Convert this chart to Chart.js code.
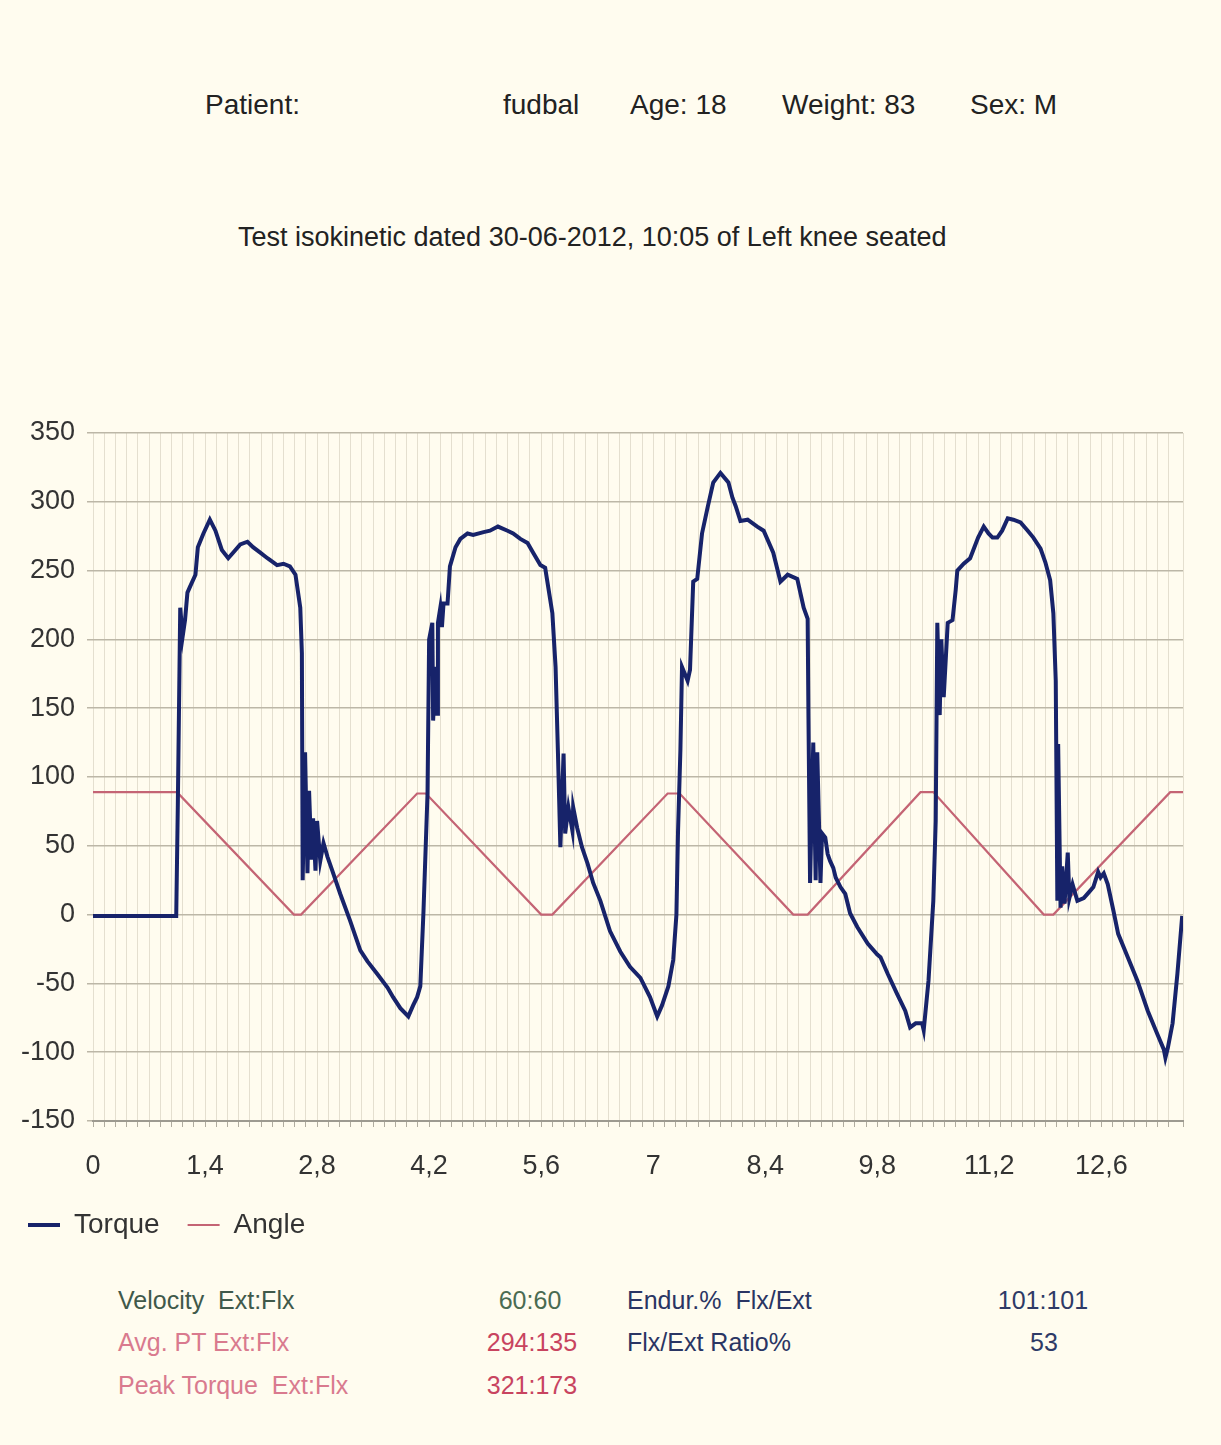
<!DOCTYPE html>
<html>
<head>
<meta charset="utf-8">
<script src="https://cdn.jsdelivr.net/npm/chart.js@4.4.0/dist/chart.umd.min.js"></script>
<style>
  body { margin: 0; width: 1221px; height: 1445px; background: #fffcef; position: relative; overflow: hidden;
         font-family: "Liberation Sans", Arial, sans-serif; color: #222; }
  .t { position: absolute; white-space: nowrap; line-height: 1; }
  .c { text-align: center; width: 140px; }
  #wrap { position: absolute; left: 0; top: 400px; width: 1221px; height: 849px; }
</style>
</head>
<body>

<div class="t" style="left:205px;top:91px;font-size:28px">Patient:</div>
<div class="t" style="left:503px;top:91px;font-size:28px">fudbal</div>
<div class="t" style="left:630px;top:91px;font-size:28px">Age: 18</div>
<div class="t" style="left:782px;top:91px;font-size:28px">Weight: 83</div>
<div class="t" style="left:970px;top:91px;font-size:28px">Sex: M</div>

<div class="t" style="left:238px;top:224px;font-size:27px">Test isokinetic dated 30-06-2012, 10:05 of Left knee seated</div>

<div id="wrap"><canvas id="chart"></canvas></div>

<div class="t" style="left:118px;top:1288px;font-size:25px;color:#40594a">Velocity&nbsp; Ext:Flx</div>
<div class="t c" style="left:460px;top:1288px;font-size:25px;color:#4a6b52">60:60</div>
<div class="t" style="left:627px;top:1288px;font-size:25px;color:#2a3563">Endur.%&nbsp; Flx/Ext</div>
<div class="t c" style="left:973px;top:1288px;font-size:25px;color:#2e3a66">101:101</div>

<div class="t" style="left:118px;top:1330px;font-size:25px;color:#d97a8e">Avg. PT Ext:Flx</div>
<div class="t c" style="left:462px;top:1330px;font-size:25px;color:#c8445f">294:135</div>
<div class="t" style="left:627px;top:1330px;font-size:25px;color:#2a3563">Flx/Ext Ratio%</div>
<div class="t c" style="left:974px;top:1330px;font-size:25px;color:#2e3a66">53</div>

<div class="t" style="left:118px;top:1373px;font-size:25px;color:#d97a8e">Peak Torque&nbsp; Ext:Flx</div>
<div class="t c" style="left:462px;top:1373px;font-size:25px;color:#c8445f">321:173</div>

<script>
// time axis (s) and y axis
const xMax = 13.62;
const xMinorStep = 0.14;   // grid step, a label every 10 steps
const xLabelEvery = 10;
const yMin = -150, yMax = 350, yStep = 50;

// Torque curve (Nm)
const torqueTime = [
  0, 1.04, 1.06, 1.09, 1.12, 1.15, 1.18, 1.21, 1.28, 1.31,
  1.38, 1.46, 1.53, 1.61, 1.69, 1.75, 1.84, 1.93, 2.00, 2.09,
  2.18, 2.30, 2.38, 2.46, 2.53, 2.59, 2.61, 2.62, 2.65, 2.68,
  2.70, 2.73, 2.75, 2.78, 2.80, 2.84, 2.88, 2.93, 2.99, 3.09,
  3.21, 3.34, 3.43, 3.55, 3.68, 3.75, 3.84, 3.94, 4.00, 4.05,
  4.09, 4.13, 4.18, 4.20,
  4.24, 4.25, 4.28, 4.30, 4.31, 4.34, 4.36, 4.38, 4.43, 4.46,
  4.53, 4.59, 4.68, 4.75, 4.88, 4.96, 5.06, 5.18, 5.25, 5.34,
  5.43, 5.50, 5.59, 5.65, 5.74, 5.78, 5.81, 5.84, 5.88, 5.90,
  5.94, 5.99, 6.00, 6.05, 6.11, 6.18, 6.25, 6.34, 6.46, 6.59,
  6.71, 6.84, 6.96, 7.05, 7.11, 7.19, 7.25, 7.29, 7.31, 7.34,
  7.36,
  7.43, 7.46, 7.50, 7.55, 7.61, 7.68, 7.75, 7.84, 7.94, 7.99,
  8.03, 8.09, 8.18, 8.30, 8.38, 8.50, 8.59, 8.68, 8.80, 8.88,
  8.93, 8.94, 8.96, 9.00, 9.03, 9.05, 9.09, 9.11, 9.15, 9.18,
  9.21, 9.25, 9.28, 9.34, 9.40, 9.46, 9.55, 9.68, 9.80, 9.84,
  9.93, 10.05, 10.15, 10.21, 10.28, 10.36, 10.38, 10.44, 10.50, 10.53,
  10.55,
  10.58, 10.60, 10.63, 10.68, 10.74, 10.78, 10.80, 10.88, 10.96, 11.00,
  11.06, 11.13, 11.19, 11.24, 11.30, 11.36, 11.43, 11.50, 11.59, 11.68,
  11.75, 11.84, 11.90, 11.96, 12.00, 12.03, 12.05, 12.06, 12.09, 12.11,
  12.14, 12.18, 12.20, 12.24, 12.30, 12.38, 12.44, 12.50, 12.56, 12.59,
  12.63, 12.68, 12.75, 12.81, 12.93, 13.05, 13.18, 13.30, 13.38, 13.40,
  13.43, 13.49, 13.55, 13.61
];
const torqueValue = [
  -1, -1, 80, 223, 202, 214, 234, 238, 247, 267,
  277, 287, 279, 265, 259, 263, 269, 271, 267, 263,
  259, 254, 255, 253, 247, 223, 190, 25, 118, 30,
  90, 40, 70, 32, 68, 39, 52, 42, 32, 15,
  -4, -26, -34, -43, -53, -60, -68, -74, -66, -60,
  -52, 3, 88, 200,
  212, 141, 180, 146, 212, 223, 209, 226, 226, 253,
  267, 273, 277, 276, 278, 279, 282, 279, 277, 273,
  270, 263, 254, 252, 219, 180, 117, 49, 117, 59,
  78, 61, 78, 63, 49, 37, 23, 10, -12, -27,
  -38, -46, -60, -74, -66, -52, -33, 0, 60, 120,
  180,
  170, 178, 242, 244, 277, 296, 314, 321, 314, 303,
  297, 286, 287, 282, 279, 263, 242, 247, 244, 223,
  215, 143, 23, 125, 25, 118, 23, 59, 56, 44,
  39, 34, 27, 20, 15, 1, -9, -21, -29, -31,
  -43, -58, -70, -82, -79, -79, -84, -48, 10, 68,
  212,
  145, 200, 158, 212, 214, 236, 250, 255, 259, 265,
  274, 282, 277, 274, 274, 279, 288, 287, 285, 279,
  274, 266, 256, 243, 219, 170, 10, 124, 5, 35,
  8, 45, 12, 22, 10, 12, 16, 20, 31, 27,
  30, 22, 3, -14, -31, -48, -70, -87, -98, -104,
  -97, -79, -43, -1
];

// Angle curve (deg): corners of the triangle wave
const angleTime  = [0, 1.05, 2.51, 2.60, 4.05, 4.16, 5.60, 5.74, 7.18, 7.33, 8.75, 8.93, 10.34, 10.50, 11.88, 12.00, 13.46, 13.62];
const angleValue = [89, 89, 0, 0, 88, 88, 0, 0, 88, 88, 0, 0, 89, 89, 0, 0, 89, 89];

const toPoints = (xs, ys) => xs.map((x, i) => ({ x: x, y: ys[i] }));
const fontFamily = '"Liberation Sans", Arial, sans-serif';

new Chart(document.getElementById('chart'), {
  type: 'line',
  data: {
    datasets: [
      {
        label: 'Torque',
        data: toPoints(torqueTime, torqueValue),
        borderColor: '#17236a',
        backgroundColor: '#17236a',
        borderWidth: 4,
        pointRadius: 0,
        pointStyle: 'line',
        tension: 0
      },
      {
        label: 'Angle',
        data: toPoints(angleTime, angleValue),
        borderColor: '#c46474',
        backgroundColor: '#c46474',
        borderWidth: 2.2,
        pointRadius: 0,
        pointStyle: 'line',
        tension: 0
      }
    ]
  },
  options: {
    responsive: true,
    maintainAspectRatio: false,
    animation: false,
    layout: { padding: { top: 33, right: 38, left: 0, bottom: 0 } },
    plugins: {
      legend: {
        position: 'bottom',
        align: 'start',
        labels: {
          usePointStyle: true,
          pointStyleWidth: 32,
          boxHeight: 28,
          padding: 28,
          color: '#333',
          font: { size: 28, family: fontFamily }
        }
      },
      tooltip: { enabled: false }
    },
    scales: {
      x: {
        type: 'linear',
        min: 0,
        max: xMax,
        ticks: {
          stepSize: xMinorStep,
          autoSkip: false,
          maxRotation: 0,
          padding: 23,
          color: '#333',
          font: { size: 27, family: fontFamily },
          callback: (v) => {
            const i = Math.round(v / xMinorStep);
            return i % xLabelEvery === 0 ? String(Math.round(v * 10) / 10).replace('.', ',') : '';
          }
        },
        grid: { color: '#e4dfcf', lineWidth: 1, tickLength: 6, tickColor: '#b0ac9f' },
        border: { color: '#9d9a90', width: 2 },
        afterFit: (scale) => { scale.height = 62; }
      },
      y: {
        min: yMin,
        max: yMax,
        ticks: {
          stepSize: yStep,
          padding: 12,
          color: '#333',
          font: { size: 27, family: fontFamily }
        },
        grid: { color: '#bcb7a7', lineWidth: 1.5, tickLength: 6 },
        border: { display: false },
        afterFit: (scale) => { scale.width = 93; }
      }
    }
  }
});
</script>
</body>
</html>
